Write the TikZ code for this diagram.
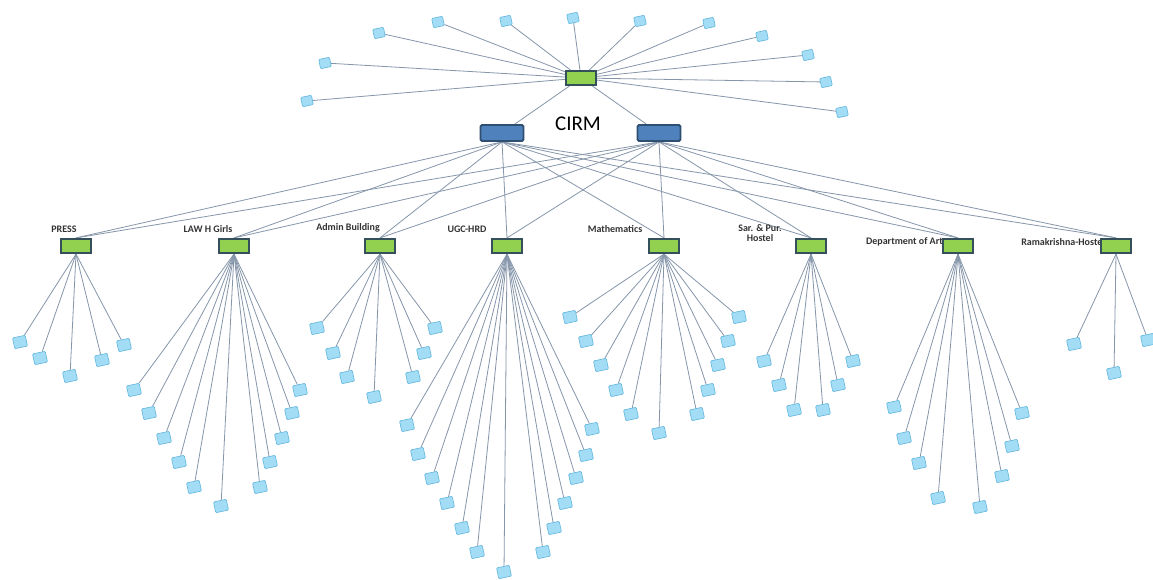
\documentclass[tikz,border=0pt]{standalone}
\usepackage{fontspec}
\setmainfont{Carlito}
\definecolor{hubg}{HTML}{92D050}
\definecolor{hubd}{HTML}{34505A}
\definecolor{coreb}{HTML}{4F81BD}
\definecolor{cored}{HTML}{2F4F70}
\definecolor{leafc}{HTML}{A3DDF5}
\definecolor{leafd}{HTML}{5FB5DE}
\definecolor{wirec}{HTML}{8696AA}
\definecolor{lblc}{HTML}{333333}
\pgfdeclarelayer{bg}
\pgfsetlayers{bg,main}
\begin{document}
\begin{tikzpicture}[x=1pt,y=-1pt,
  wire/.style={draw=wirec, line width=0.8pt},
  hub/.style={rectangle, fill=hubg, draw=hubd, line width=2.2pt, minimum width=30pt, minimum height=14pt, inner sep=0pt},
  core/.style={rectangle, rounded corners=1.5pt, fill=coreb, draw=cored, line width=1.8pt, minimum width=43pt, minimum height=16pt, inner sep=0pt},
  leaf/.style={rectangle, rounded corners=1pt, fill=leafc, draw=leafd, line width=0.6pt, minimum width=13pt, minimum height=11pt, inner sep=0pt, rotate=12},
  tleaf/.style={leaf, minimum width=11pt, minimum height=9.5pt},
  lbl/.style={font=\bfseries\fontsize{10}{10.5}\selectfont, text=lblc, inner sep=0pt}]
\useasboundingbox (0,0) rectangle (1153,580);
\begin{pgfonlayer}{bg}
\fill[white] (0,0) rectangle (1153,580);
\end{pgfonlayer}

% labels (drawn first so boxes may cover their ends)
\node[lbl] (lpress) at (64,229) {PRESS};
\node[lbl] (llaw) at (208,229) {LAW H Girls};
\node[lbl] (ladmin) at (348,228) {Admin Building};
\node[lbl] (lugc) at (467,229) {UGC-HRD};
\node[lbl] (lmath) at (615,229) {Mathematics};
\node[lbl, align=center] (lsar) at (760,233) {Sar. \& Pur.\\Hostel};
\node[lbl, anchor=east] (larts) at (947,242) {Department of Arts};
\node[lbl, anchor=east] (lrama) at (1105,242) {Ramakrishna-Hostel};

% core
\node[hub] (top) at (581,78) {};
\node[core] (c1) at (502,133) {};
\node[core] (c2) at (659,133) {};
\node[font=\fontsize{21}{24}\selectfont, inner sep=0pt] (cirm) at (578,124) {CIRM};

\begin{pgfonlayer}{bg}
\draw[wire] (top) -- (c1);
\draw[wire] (top) -- (c2);
\end{pgfonlayer}

% top leaves
\foreach \x/\y [count=\i] in {379/33, 438/22, 506/21, 573/18, 640/21, 709/23, 762/36, 808/55, 826/82, 842/112, 325/63, 307/101}{
  \node[tleaf] (t\i) at (\x,\y) {};
  \begin{pgfonlayer}{bg}\draw[wire] (top) -- (t\i);\end{pgfonlayer}
}

% department hubs
\foreach \n/\x in {press/76, law/234, admin/380, ugc/507, math/664, sar/811, arts/958, rama/1116}{
  \node[hub] (\n) at (\x,246) {};
  \begin{pgfonlayer}{bg}
  \draw[wire] (c1.south) -- (\n.north);
  \draw[wire] (c2.south) -- (\n.north);
  \end{pgfonlayer}
}

% leaves per department
\foreach \p/\list in {
  press/{20/342, 40/358, 70/376, 102/360, 124/345},
  law/{134/390, 149/413, 164/438, 179/462, 194/487, 221/506, 260/487, 270/462, 282/438, 292/413, 300/390},
  admin/{317/328, 333/353, 347/377, 374/397, 413/377, 424/353, 435/328},
  ugc/{407/425, 418/454, 432/478, 447/503, 462/528, 477/552, 504/572, 543/552, 554/528, 565/503, 576/478, 586/455, 592/429},
  math/{570/317, 586/341, 601/365, 616/390, 631/414, 659/433, 697/414, 708/390, 718/365, 728/341, 739/317},
  sar/{764/361, 779/385, 794/410, 823/410, 838/385, 853/361},
  arts/{894/407, 904/438, 919/463, 938/498, 980/507, 1002/476, 1012/446, 1022/413},
  rama/{1074/344, 1114/373, 1148/340}}{
  \foreach \x/\y [count=\i] in \list {
    \node[leaf] (\p-\i) at (\x,\y) {};
    \begin{pgfonlayer}{bg}\draw[wire] (\p.south) -- (\p-\i);\end{pgfonlayer}
  }
}
\end{tikzpicture}
\end{document}
